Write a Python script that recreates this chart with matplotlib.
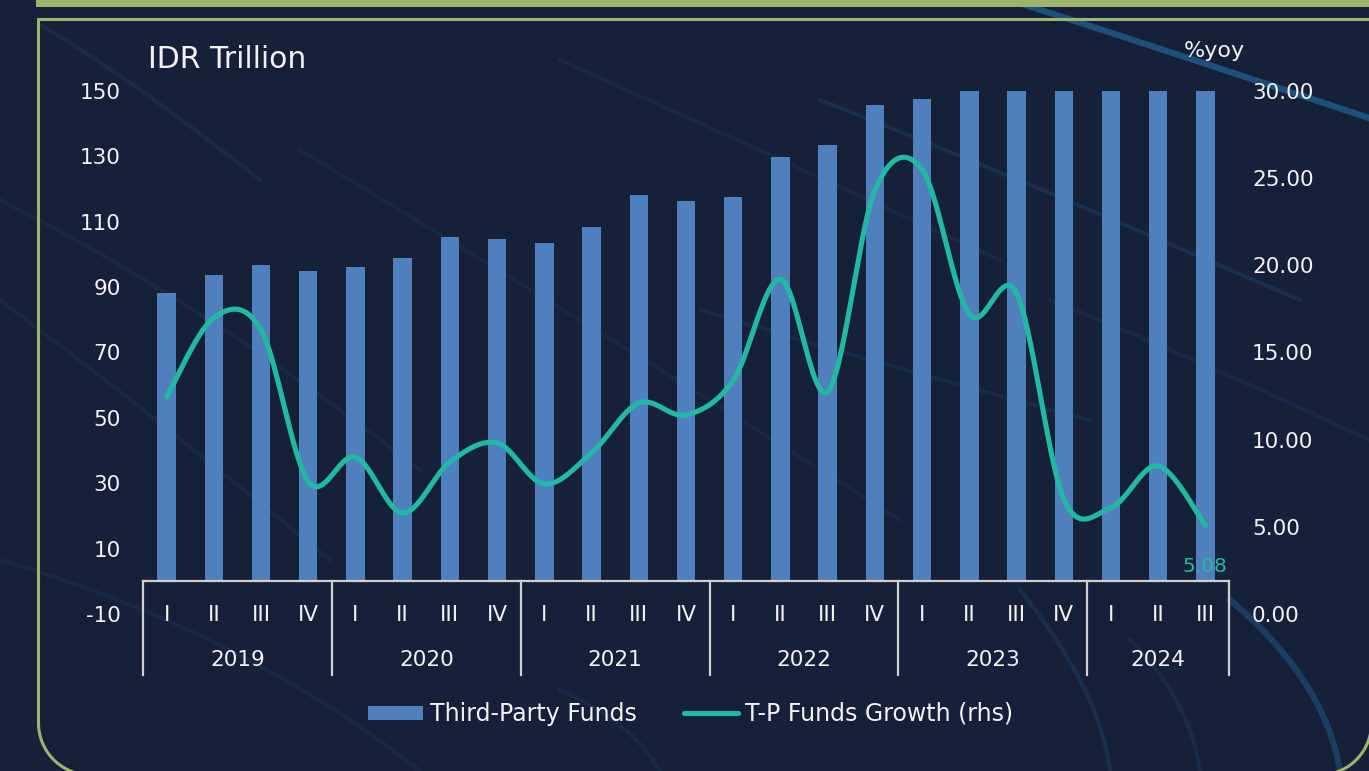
import numpy as np
import matplotlib
matplotlib.use("Agg")
import matplotlib.pyplot as plt
from matplotlib.patches import Rectangle, PathPatch
from matplotlib.transforms import IdentityTransform
from matplotlib.lines import Line2D
from matplotlib.path import Path

plt.rcParams['font.family'] = ['DejaVu Sans']

# ---------------- data ----------------
years = ["2019", "2020", "2021", "2022", "2023", "2024"]
quarters_per_year = [4, 4, 4, 4, 4, 3]
quarter_labels = ["I", "II", "III", "IV"] * 5 + ["I", "II", "III"]
third_party_funds = [88.2, 93.7, 96.7, 94.9, 96.1, 98.9, 105.3, 104.7,
                     103.5, 108.4, 118.2, 116.3, 117.5, 129.8, 133.5, 145.7,
                     147.5, 150, 150, 150, 150, 150, 150]
tpf_growth = [12.45, 17.0, 16.3, 7.6, 9.0, 5.8, 8.72, 9.81,
              7.46, 9.24, 12.1, 11.42, 13.4, 19.2, 12.75, 24.3,
              25.5, 17.2, 18.4, 6.6, 6.1, 8.49, 5.08]
left_ticks = [-10, 10, 30, 50, 70, 90, 110, 130, 150]
right_ticks = [0, 5, 10, 15, 20, 25, 30]

BG = "#172039"
BAR = "#4f80bd"
TEAL = "#21b9a3"
GREEN = "#9cb46e"
TXT = "#f2f2f2"
AXL = "#d0d0d0"
DECO = "#1f5c8c"

W, H = 1369, 771
fig = plt.figure(figsize=(W / 100, H / 100), dpi=100, facecolor=BG)
ID = IdentityTransform()

# ---- decorative background curves (pixel coords, y from top) ----
def pcurve(p0, p1, p2, lw, alpha, color=DECO):
    tt = np.linspace(0, 1, 80)[:, None]
    a, b, c = (np.array(p, float) for p in (p0, p1, p2))
    pts = (1 - tt) ** 2 * a + 2 * (1 - tt) * tt * b + tt ** 2 * c
    fig.add_artist(Line2D(pts[:, 0], H - pts[:, 1], transform=ID, color=color,
                          lw=lw, alpha=alpha, zorder=0))

pcurve((1010, 0), (1180, 55), (1369, 118), 4.5, 0.8)
pcurve((40, 25), (120, 70), (260, 180), 3, 0.2)
pcurve((0, 200), (200, 300), (420, 470), 3, 0.15)
pcurve((0, 300), (160, 420), (330, 560), 3, 0.15)
pcurve((300, 150), (600, 330), (900, 520), 3, 0.13)
pcurve((560, 60), (760, 150), (1000, 260), 3, 0.15)
pcurve((820, 100), (1000, 170), (1300, 300), 3, 0.25)
pcurve((700, 310), (900, 370), (1090, 420), 3, 0.2)
pcurve((1050, 300), (1200, 360), (1369, 440), 3, 0.18)
pcurve((1230, 600), (1325, 680), (1340, 771), 4.5, 0.5)
pcurve((1130, 640), (1190, 700), (1200, 771), 3, 0.2)
pcurve((0, 560), (240, 630), (420, 771), 3, 0.15)
pcurve((560, 690), (630, 720), (660, 771), 3, 0.18)
pcurve((1020, 590), (1100, 690), (1110, 771), 3, 0.25)

# ---- frame ----
fig.add_artist(Rectangle((36, H - 7), W - 36, 7, transform=ID,
                         facecolor=GREEN, edgecolor="none", zorder=1))
r = 52
xl, xr, yt, yb = 38.5, 1371.5, 19.5, 775
ang = np.linspace(np.pi, 1.5 * np.pi, 40)
left_arc_x = (xl + r) + r * np.cos(ang)
left_arc_y = (yb - r) - r * np.sin(ang)
ang2 = np.linspace(1.5 * np.pi, 2 * np.pi, 40)
right_arc_x = (xr - r) + r * np.cos(ang2)
right_arc_y = (yb - r) - r * np.sin(ang2)
fx = np.concatenate([[W + 5, xl, xl], left_arc_x, right_arc_x])
fy = np.concatenate([[yt, yt, yb - r], left_arc_y, right_arc_y])
fig.add_artist(Line2D(fx, H - fy, transform=ID, color=GREEN, lw=2.2, zorder=1))

# ---- axes ----
L, R, T, B = 143, 1229, 91, 614
ax = fig.add_axes([L / W, 1 - B / H, (R - L) / W, (B - T) / H])
ax.set_facecolor("none")
ax2 = ax.twinx()
n = len(third_party_funds)
x = np.arange(n)

ax.bar(x, third_party_funds, width=0.39, color=BAR, zorder=2)
ax.set_xlim(-0.5, n - 0.5)
ax.set_ylim(-10, 150)
ax2.set_ylim(0, 30)

for a in (ax, ax2):
    for s in a.spines.values():
        s.set_visible(False)
    a.set_xticks([])

FS = 15.5
ax.set_yticks(left_ticks)
ax.set_yticklabels([str(v) for v in left_ticks])
ax2.set_yticks(right_ticks)
ax2.set_yticklabels([f"{v:.2f}" for v in right_ticks])
ax.tick_params(axis="y", length=0, pad=16, labelsize=FS, labelcolor=TXT)
ax2.tick_params(axis="y", length=0, pad=16.5, labelsize=FS, labelcolor=TXT)

# smoothed line (Excel-style Catmull-Rom Bezier through the data points)
y = np.asarray(tpf_growth, float)
xs, ys = [], []
t = np.linspace(0, 1, 30)
for i in range(n - 1):
    p0 = np.array([x[i], y[i]])
    p3 = np.array([x[i + 1], y[i + 1]])
    pm = np.array([x[max(i - 1, 0)], y[max(i - 1, 0)]])
    pp = np.array([x[min(i + 2, n - 1)], y[min(i + 2, n - 1)]])
    p1 = p0 + (p3 - pm) / 6
    p2 = p3 - (pp - p0) / 6
    c = ((1 - t) ** 3)[:, None] * p0 + (3 * (1 - t) ** 2 * t)[:, None] * p1 \
        + (3 * (1 - t) * t ** 2)[:, None] * p2 + (t ** 3)[:, None] * p3
    xs.extend(c[:, 0]); ys.extend(c[:, 1])
ax2.plot(xs, ys, color=TEAL, lw=3.7, solid_capstyle="round", zorder=3)
ax2.text(x[-1], 2.7, f"{tpf_growth[-1]:.2f}", color=TEAL, fontsize=14.5,
         ha="center", va="center")

# category axis
ax.plot([-0.5, n - 0.5], [0, 0], color=AXL, lw=1.6, clip_on=False, zorder=4)
bounds = np.concatenate([[0], np.cumsum(quarters_per_year)]) - 0.5
for b in bounds:
    ax.plot([b, b], [0, -28.7], color=AXL, lw=1.6, clip_on=False, zorder=4)
for i, q in enumerate(quarter_labels):
    ax.text(i, -10.3, q, color=TXT, fontsize=FS, ha="center", va="center")
for kk, yr in enumerate(years):
    ax.text((bounds[kk] + bounds[kk + 1]) / 2, -24.2, yr, color=TXT,
            fontsize=FS, ha="center", va="center")

fig.text(148 / W, 1 - 59 / H, "IDR Trillion", color=TXT, fontsize=21.5,
         ha="left", va="center")
fig.text(1214 / W, 1 - 51 / H, "%yoy", color=TXT, fontsize=16,
         ha="center", va="center")

handles = [Rectangle((0, 0), 1, 1, facecolor=BAR, edgecolor="none"),
           Line2D([], [], color=TEAL, lw=3.7, solid_capstyle="round")]
fig.legend(handles, ["Third-Party Funds", "T-P Funds Growth (rhs)"],
           loc="center", bbox_to_anchor=(691 / W, 1 - 714 / H), ncol=2,
           frameon=False, fontsize=17, labelcolor=TXT,
           handlelength=2.3, handleheight=0.55, handletextpad=0.3,
           columnspacing=2.0)

fig.savefig("out.png", dpi=100, facecolor=BG)
